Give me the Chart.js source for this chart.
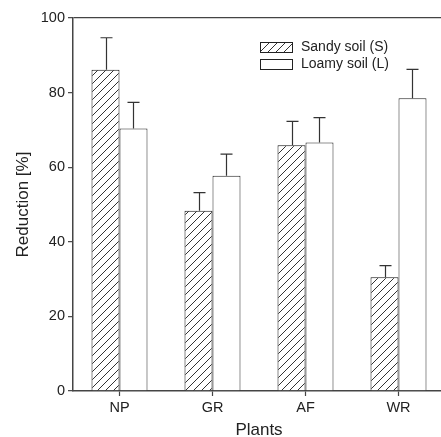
<!DOCTYPE html>
<html>
<head>
<meta charset="utf-8">
<script src="https://cdn.jsdelivr.net/npm/chart.js@4"></script>
<style>
    html, body { margin: 0; padding: 0; overflow: hidden; background: #fff; }
</style>
</head>
<body>
<canvas id="chart" width="445" height="437"></canvas>
<script>
// --- Data ---
const categories = ['NP', 'GR', 'AF', 'WR'];
const sandyValues = [86.1, 48.3, 65.9, 30.5];
const sandyErrors = [8.6, 4.9, 6.4, 3.1];
const loamyValues = [70.4, 57.7, 66.6, 78.5];
const loamyErrors = [7.0, 5.8, 6.7, 7.7];
const yTicks = [0, 20, 40, 60, 80, 100];

const FONT = '"Liberation Sans", Arial, Helvetica, sans-serif';
const AXIS = '#444';

// --- Diagonal hatch pattern for the sandy soil bars (pixel-exact, no AA) ---
const makeHatch = () => {
    const s = 8;
    const c = document.createElement('canvas');
    c.width = s; c.height = s;
    const g = c.getContext('2d');
    g.fillStyle = '#fff';
    g.fillRect(0, 0, s, s);
    g.fillStyle = '#333';
    for (let i = 0; i < s; i++) {
        g.fillRect(i, s - 1 - i, 1, 1);
    }
    return g.createPattern(c, 'repeat');
};
const hatch = makeHatch();

// --- Upper error bars ---
const errorBars = {
    id: 'errorBars',
    afterDatasetsDraw(chart) {
        const { ctx } = chart;
        const y = chart.scales.y;
        ctx.save();
        ctx.strokeStyle = '#333';
        ctx.lineWidth = 1.2;
        chart.data.datasets.forEach((ds, i) => {
            chart.getDatasetMeta(i).data.forEach((bar, j) => {
                const top = y.getPixelForValue(ds.data[j] + ds.errors[j]);
                const x = Math.round(bar.x) + 0.5;
                ctx.beginPath();
                ctx.moveTo(x, bar.y);
                ctx.lineTo(x, top);
                ctx.moveTo(x - 6, top);
                ctx.lineTo(x + 6, top);
                ctx.stroke();
            });
        });
        ctx.restore();
    }
};

// --- Legend inside the plot, top right ---
const boxLegend = {
    id: 'boxLegend',
    afterDraw(chart) {
        const { ctx } = chart;
        ctx.save();
        ctx.font = `14px ${FONT}`;
        ctx.textBaseline = 'middle';
        chart.data.datasets.forEach((ds, i) => {
            const bx = 260.5, by = 42.5 + i * 17;
            ctx.fillStyle = ds.backgroundColor;
            ctx.fillRect(bx, by, 32, 10);
            ctx.strokeStyle = '#222';
            ctx.lineWidth = 1;
            ctx.strokeRect(bx, by, 32, 10);
            ctx.fillStyle = '#222';
            ctx.fillText(ds.label, 301, by + 5);
        });
        ctx.restore();
    }
};

new Chart(document.getElementById('chart'), {
    type: 'bar',
    data: {
        labels: categories,
        datasets: [
            {
                label: 'Sandy soil (S)',
                data: sandyValues,
                errors: sandyErrors,
                backgroundColor: hatch,
                borderColor: '#111',
                borderWidth: 1
            },
            {
                label: 'Loamy soil (L)',
                data: loamyValues,
                errors: loamyErrors,
                backgroundColor: '#fff',
                borderColor: '#222',
                borderWidth: 1
            }
        ]
    },
    options: {
        responsive: false,
        animation: false,
        devicePixelRatio: 1,
        layout: { padding: { top: 18, right: 0, left: 0, bottom: 0 } },
        datasets: { bar: { categoryPercentage: 0.602, barPercentage: 1.0 } },
        plugins: {
            legend: { display: false },
            tooltip: { enabled: false }
        },
        scales: {
            x: {
                afterFit: (s) => { s.height = 46; },
                grid: { offset: false, drawOnChartArea: false, tickLength: 5, tickColor: AXIS, tickWidth: 1.2 },
                border: { color: AXIS, width: 1.5 },
                ticks: { color: '#222', font: { family: FONT, size: 14.5 }, padding: 3 },
                title: {
                    display: true, text: 'Plants', color: '#222',
                    font: { family: FONT, size: 17, lineHeight: 1 },
                    padding: { top: 0, bottom: -1.5 }
                }
            },
            y: {
                min: 0,
                max: 100,
                afterFit: (s) => { s.width = 73; },
                afterBuildTicks: (s) => { s.ticks = yTicks.map(v => ({ value: v })); },
                grid: {
                    color: (c) => (c.tick && c.tick.value === 100 ? AXIS : 'transparent'),
                    lineWidth: 1.3,
                    tickLength: 5,
                    tickColor: AXIS,
                    tickWidth: 1.2
                },
                border: { color: AXIS, width: 1.5 },
                ticks: { color: '#222', font: { family: FONT, size: 14.5 }, padding: 3 },
                title: {
                    display: true, text: 'Reduction [%]', color: '#222',
                    font: { family: FONT, size: 17, lineHeight: 1 },
                    padding: { top: 14.5, bottom: 0 }
                }
            }
        }
    },
    plugins: [errorBars, boxLegend]
});
</script>
</body>
</html>
